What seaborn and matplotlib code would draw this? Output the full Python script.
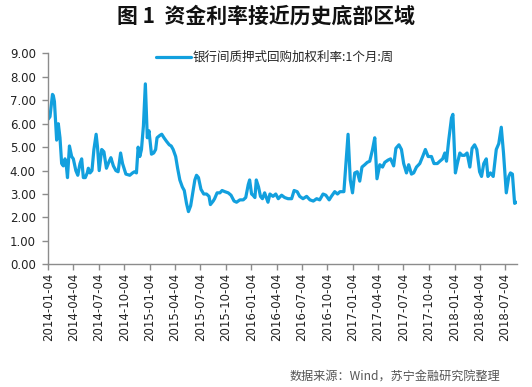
import pandas as pd
import matplotlib
matplotlib.use('Agg')
import matplotlib.pyplot as plt
import seaborn as sns

# weeks after 2014-01-04
start = '2014-01-04'
weeks = [0, 0.9, 2.1, 2.6, 3.1, 4.3, 5.1, 6.0, 6.8, 7.7, 8.6, 9.2, 9.9, 10.8, 12.0, 12.8,
         14.2, 15.1, 16.3, 17.1, 18.0, 19.0, 20.0, 20.5, 21.4, 22.4, 23.4, 24.5, 25.3, 26.2,
         27.4, 28.6, 29.9, 31.3, 32.2, 33.4, 34.7, 35.8, 37.1, 38.2, 39.9, 41.9, 43.3, 44.3,
         45.3, 46.2, 47.0, 47.9, 48.8, 49.8, 50.8, 51.7, 53.0, 54.2, 55.1, 55.9, 57.3, 58.3,
         59.5, 60.7, 62.1, 63.1, 64.2, 65.4, 66.4, 67.6, 68.9, 69.8, 71.0, 72.0, 73.1, 74.1,
         75.3, 76.1, 77.2, 78.4, 79.9, 81.3, 82.5, 83.3, 84.7, 85.5, 86.7, 88.1, 89.3, 90.7,
         92.4, 93.9, 95.5, 96.7, 98.4, 100.1, 101.5, 102.7, 103.5, 104.4, 105.2, 106.1, 106.9,
         108.0, 109.0, 110.0, 111.2, 112.9, 113.8, 115.5, 116.9, 118.1, 119.8, 121.5, 123.2,
         125.0, 126.3, 127.9, 129.2, 130.9, 132.7, 134.4, 136.1, 137.8, 139.5, 141.2, 142.6,
         144.3, 145.5, 147.2, 148.6, 149.8, 151.8, 154.0, 155.2, 156.3, 157.5, 158.7, 160.0,
         161.2, 162.6, 163.8, 165.2, 166.5, 167.7, 168.9, 170.3, 171.7, 172.9, 174.6, 175.9,
         177.5, 178.5, 180.2, 181.4, 182.6, 184.0, 185.2, 186.5, 187.7, 189.1, 190.8, 192.5,
         193.7, 195.1, 196.8, 198.2, 199.9, 201.1, 202.5, 203.7, 204.5, 205.7, 207.1, 207.9,
         209.1, 210.2, 211.4, 212.5, 213.9, 215.1, 216.5, 217.7, 219.0, 220.2, 221.6, 222.6,
         223.7, 225.0, 225.9, 227.1, 228.5, 230.2, 231.4, 232.7, 233.9, 235.3, 236.5, 237.5,
         238.4, 239.6, 240.4]
rates = [6.2, 6.3, 7.25, 7.2, 6.95, 5.3, 6.0, 5.4, 4.3, 4.2, 4.5, 4.3, 3.7, 5.05, 4.6, 4.5,
         4.0, 3.8, 4.3, 4.5, 3.7, 3.7, 3.9, 4.1, 3.9, 4.0, 4.9, 5.55, 5.0, 4.0,
         4.9, 4.8, 4.1, 4.4, 4.55, 4.2, 4.0, 3.95, 4.75, 4.3, 3.85, 3.8, 3.9, 3.95,
         3.9, 5.0, 4.6, 4.9, 5.9, 7.7, 5.4, 5.7, 4.7, 4.75, 4.9, 5.4, 5.5, 5.55,
         5.4, 5.25, 5.1, 5.05, 4.9, 4.6, 4.1, 3.6, 3.3, 3.15, 2.6, 2.25, 2.5, 3.0,
         3.6, 3.8, 3.7, 3.2, 3.0, 3.0, 2.9, 2.55, 2.7, 2.8, 3.05, 3.05, 3.15, 3.1,
         3.05, 2.95, 2.7, 2.65, 2.75, 2.75, 2.85, 3.4, 3.6, 3.0, 2.95, 2.85, 3.6,
         3.3, 2.9, 2.8, 3.05, 2.65, 3.0, 2.9, 3.0, 2.8, 2.95, 2.85, 2.8,
         2.8, 3.15, 3.1, 2.9, 2.8, 2.9, 2.75, 2.7, 2.8, 2.75, 3.0, 2.95,
         2.75, 2.9, 3.1, 3.0, 3.1, 3.1, 5.55, 3.6, 3.05, 3.9, 3.95, 3.55,
         4.15, 4.25, 4.35, 4.4, 4.9, 5.4, 3.65, 4.25, 4.15, 4.35, 4.45, 4.5,
         4.2, 4.95, 5.1, 4.9, 4.3, 3.9, 4.25, 3.85, 3.9, 4.15, 4.3, 4.65,
         4.9, 4.6, 4.6, 4.3, 4.3, 4.4, 4.5, 4.75, 4.4, 5.3, 6.25, 6.4,
         3.9, 4.3, 4.75, 4.65, 4.65, 4.75, 4.15, 4.95, 5.1, 4.9, 3.95, 3.75,
         4.3, 4.5, 3.75, 3.9, 3.75, 4.9, 5.15, 5.85, 4.75, 3.05, 3.75, 3.9,
         3.85, 2.6, 2.65]
tick_labels = [f'{y}-{m:02d}-04' for y in range(2014, 2019) for m in (1, 4, 7, 10)][:19]
y_ticks = [0, 1, 2, 3, 4, 5, 6, 7, 8, 9]
series_name = '银行间质押式回购加权利率:1个月:周'

df = pd.DataFrame({
    'date': pd.to_datetime(start) + pd.to_timedelta([round(w * 7) for w in weeks], unit='D'),
    'rate': rates,
})

sns.set_style('white')
plt.rcParams['font.family'] = ['Noto Sans CJK SC', 'DejaVu Sans']

fig = plt.figure(figsize=(5.32, 3.87), dpi=100)
ax = fig.add_axes([0.0908, 0.317, 0.8802, 0.545])

sns.lineplot(data=df, x='date', y='rate', ax=ax, color='#12A0DE', linewidth=2.3,
             label=series_name)

ax.set_ylim(0, 9)
ax.set_yticks(y_ticks)
ax.set_yticklabels([f'{v:.2f}' for v in y_ticks], family='DejaVu Sans', fontsize=8.5)
ax.set_xlim(pd.to_datetime(start), pd.to_datetime(start) + pd.Timedelta(days=round(240.5 * 7)))
ax.set_xticks(pd.to_datetime(tick_labels))
ax.set_xticklabels(tick_labels, rotation=90, family='DejaVu Sans', fontsize=8.5)
ax.set_xlabel('')
ax.set_ylabel('')

for s in ['top', 'right']:
    ax.spines[s].set_visible(False)
for s in ['left', 'bottom']:
    ax.spines[s].set_color('#8c8c8c')
    ax.spines[s].set_linewidth(1.0)
ax.tick_params(axis='both', which='major', length=4, width=1, color='#8c8c8c',
               direction='out', left=True, bottom=True, labelcolor='#222222')
ax.tick_params(axis='y', pad=5)
ax.tick_params(axis='x', pad=2)

leg = ax.legend(loc='upper left', bbox_to_anchor=(0.205, 1.065), frameon=False,
                fontsize=9.0, handlelength=2.8, handletextpad=0.15)

fig.text(0.5, 0.958, '图 1  资金利率接近历史底部区域', ha='center', va='center',
         fontsize=15, fontweight='bold', color='#111111')
fig.text(0.94, 0.025, '数据来源：Wind，苏宁金融研究院整理', ha='right', va='center',
         fontsize=8.7, style='italic', color='#555555')

fig.savefig('out.png', dpi=100)
